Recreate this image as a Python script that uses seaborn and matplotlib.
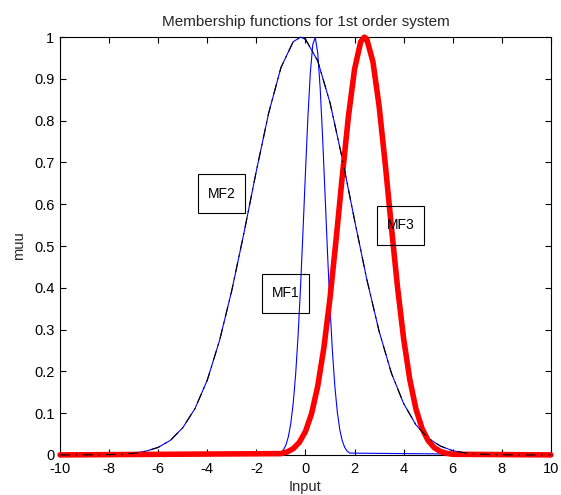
import matplotlib
matplotlib.use("Agg")
import matplotlib.pyplot as plt
from matplotlib.patches import Rectangle
import matplotlib.transforms as mtransforms
import seaborn as sns
import pandas as pd

# ---- data ----
mf1_x = [-10.0, -1.0, -0.9, -0.8, -0.7, -0.6, -0.5, -0.4, -0.3, -0.2, -0.1, 0.0, 0.1, 0.2, 0.3,
         0.4, 0.5, 0.6, 0.7, 0.8, 0.9, 1.0, 1.1, 1.2, 1.3, 1.4, 1.5, 1.6, 1.7, 1.8, 10.0]
mf1_y = [0.0, 0.0058, 0.0119, 0.0232, 0.0427, 0.0745, 0.1232, 0.1930, 0.2864, 0.4026, 0.5363,
         0.6767, 0.8090, 0.9161, 0.9828, 0.9989, 0.9618, 0.8773, 0.7581, 0.6206, 0.4813, 0.3536,
         0.2462, 0.1623, 0.1014, 0.0600, 0.0336, 0.0179, 0.0090, 0.0043, 0.0]

mf2_x = [-10.0, -9.5, -9.0, -8.5, -8.0, -7.5, -7.0, -6.5, -6.0, -5.5, -5.0, -4.5, -4.0, -3.5,
         -3.0, -2.5, -2.0, -1.5, -1.0, -0.5, -0.2, 0.0, 0.5, 1.0, 1.5, 2.0, 2.5, 3.0, 3.5, 4.0,
         4.5, 5.0, 5.5, 6.0, 6.5, 7.0, 7.5, 8.0, 8.5, 9.0, 9.5, 10.0]
mf2_y = [0.0, 0.0, 0.0001, 0.0003, 0.0007, 0.0018, 0.0041, 0.0089, 0.018, 0.035, 0.065, 0.111,
         0.179, 0.274, 0.394, 0.533, 0.680, 0.818, 0.927, 0.989, 1.0, 0.995, 0.943, 0.843, 0.709,
         0.562, 0.420, 0.296, 0.196, 0.123, 0.072, 0.040, 0.021, 0.010, 0.0048, 0.0021, 0.0009,
         0.0003, 0.0001, 0.0, 0.0, 0.0]

mf3_x = [-10.0, -1.0, -0.75, -0.5, -0.25, 0.0, 0.25, 0.5, 0.75, 1.0, 1.25, 1.5, 1.75, 2.0, 2.25,
         2.4, 2.5, 2.75, 3.0, 3.25, 3.5, 3.75, 4.0, 4.25, 4.5, 4.75, 5.0, 5.25, 5.5, 5.75, 6.0, 10.0]
mf3_y = [0.0, 0.0031, 0.0070, 0.0149, 0.0299, 0.0561, 0.0991, 0.1645, 0.2564, 0.3753, 0.5163,
         0.6670, 0.8098, 0.9231, 0.9888, 1.0, 0.9950, 0.9406, 0.8353, 0.6968, 0.5461, 0.4020,
         0.2780, 0.1806, 0.1103, 0.0632, 0.0340, 0.0172, 0.0082, 0.0037, 0.0015, 0.0]

labels = ["MF1", "MF2", "MF3"]
label_x = [-0.80, -3.41, 3.88]
label_y = [0.387, 0.625, 0.550]

x_ticks = [-10, -8, -6, -4, -2, 0, 2, 4, 6, 8, 10]
y_ticks = [0, 0.1, 0.2, 0.3, 0.4, 0.5, 0.6, 0.7, 0.8, 0.9, 1]
y_tick_labels = ["0", "0.1", "0.2", "0.3", "0.4", "0.5", "0.6", "0.7", "0.8", "0.9", "1"]

# ---- style ----
sns.set_theme(style="ticks")
plt.rcParams["font.family"] = ["Liberation Sans", "DejaVu Sans"]
plt.rcParams["axes.unicode_minus"] = False

fig = plt.figure(figsize=(5.61, 4.95), dpi=100)
ax = fig.add_axes([0.107, 0.081, 0.875, 0.844])

df1 = pd.DataFrame({"x": mf1_x, "y": mf1_y})
df2 = pd.DataFrame({"x": mf2_x, "y": mf2_y})
df3 = pd.DataFrame({"x": mf3_x, "y": mf3_y})

sns.lineplot(data=df1, x="x", y="y", ax=ax, color="#0000ff", linewidth=0.8,
             sort=False, estimator=None, zorder=3, clip_on=False)
sns.lineplot(data=df2, x="x", y="y", ax=ax, color="#0000ff", linewidth=0.8,
             sort=False, estimator=None, zorder=3, clip_on=False)
sns.lineplot(data=df3, x="x", y="y", ax=ax, color="#ff0000", linewidth=4.0,
             sort=False, estimator=None, zorder=4, clip_on=False)
sns.lineplot(data=df2, x="x", y="y", ax=ax, color="black", linewidth=0.8, linestyle="-.",
             sort=False, estimator=None, zorder=5, clip_on=False)
ax.lines[-1].set_dashes([9, 5, 1.5, 5])

# text boxes of fixed pixel size (47 x 39 px) around each label
for lab, lx, ly in zip(labels, label_x, label_y):
    ax.text(lx, ly, lab, ha="center", va="center", fontsize=10, color="black", zorder=6)
    box = Rectangle((0, 0), 47, 39, fill=False, edgecolor="black", linewidth=0.8, zorder=6,
                    transform=mtransforms.Affine2D().translate(-23.5, -19.5)
                    + mtransforms.ScaledTranslation(lx, ly, ax.transData))
    ax.add_artist(box)

ax.set_xlim(-10, 10)
ax.set_ylim(0, 1)
ax.set_xticks(x_ticks)
ax.set_xticklabels([str(t) for t in x_ticks])
ax.set_yticks(y_ticks)
ax.set_yticklabels(y_tick_labels)
ax.tick_params(direction="in", top=True, right=True, length=4, width=0.8,
               labelsize=10.5, colors="black")
ax.tick_params(axis="x", pad=5)
ax.tick_params(axis="y", pad=4)
for s in ax.spines.values():
    s.set_visible(True)
    s.set_color("black")
    s.set_linewidth(0.8)

ax.set_title("Membership functions for 1st order system", fontsize=11, pad=8)
ax.set_xlabel("Input", fontsize=10.5, labelpad=3)
ax.set_ylabel("muu", fontsize=10.5, labelpad=6)

fig.savefig("out.png", dpi=100, facecolor="white")
